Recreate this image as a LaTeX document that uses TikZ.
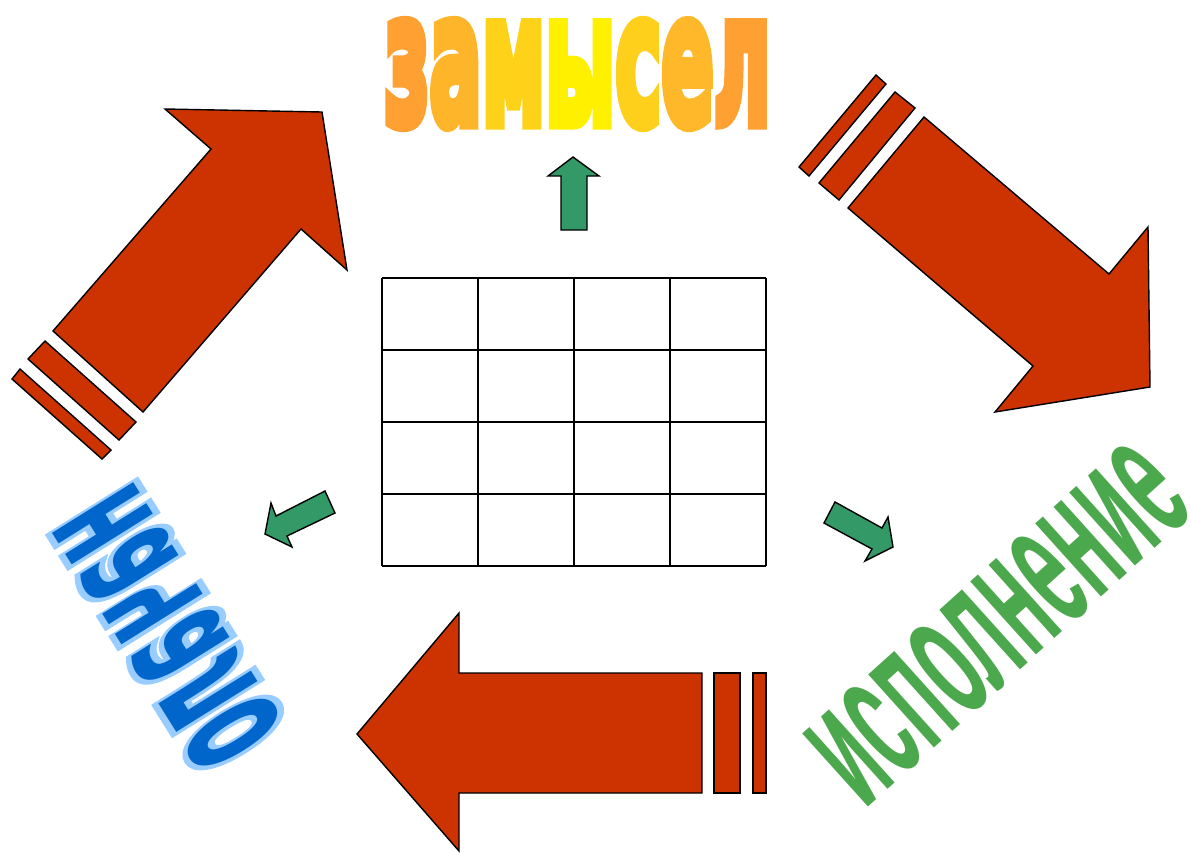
\documentclass[tikz,border=0pt]{standalone}
\usepackage{fontspec}
\usepackage{graphicx}
\newfontfamily\zamfont{DejaVu Sans Bold}[FakeBold=7]
\newfontfamily\nachfont{DejaVu Sans Bold}
\newfontfamily\nachfontb{DejaVu Sans Bold}[FakeBold=8]
\newfontfamily\ispfont{Liberation Sans Bold}
\definecolor{arrowred}{HTML}{CC3300}
\definecolor{arrowgreen}{HTML}{339966}
\definecolor{ispgreen}{HTML}{4CA84C}
\definecolor{nachblue}{HTML}{0066CC}
\definecolor{nachlight}{HTML}{99CCFF}
\definecolor{zamA}{HTML}{FFA033}
\definecolor{zamB}{HTML}{FFB52A}
\definecolor{zamC}{HTML}{FFD21A}
\definecolor{zamD}{HTML}{FFF000}
\definecolor{zamE}{HTML}{FFD01B}
\definecolor{zamF}{HTML}{FFB82A}
\definecolor{zamG}{HTML}{FFA033}
\begin{document}
\begin{tikzpicture}[x=1pt,y=-1pt, line width=1.4pt, line join=miter,
  redarrow/.style={fill=arrowred, draw=black},
  greenarrow/.style={fill=arrowgreen, draw=black},
  gridline/.style={draw=black, line width=1.5pt}]
\useasboundingbox (0,0) rectangle (1191,852);
% top-left red arrow
\draw[redarrow] (53,331) -- (211,149) -- (165,109) -- (322,112) -- (347,270) -- (301,229) -- (143,412) -- cycle;
\draw[redarrow] (45,341) -- (136,422) -- (119,440) -- (28,359) -- cycle;
\draw[redarrow] (20,369) -- (111,450) -- (102,459) -- (12,379) -- cycle;
% top-right red arrow
\draw[redarrow] (924,117) -- (1109,274) -- (1148,227) -- (1150,387) -- (995,412) -- (1033,366) -- (848,208) -- cycle;
\draw[redarrow] (895,92) -- (915,108) -- (839,200) -- (819,183) -- cycle;
\draw[redarrow] (876,75) -- (886,84) -- (809,176) -- (799,167) -- cycle;
% bottom red arrow
\draw[redarrow] (702,673) -- (459,673) -- (459,613) -- (357,734) -- (459,851) -- (459,793) -- (702,793) -- cycle;
\draw[redarrow] (714,673) rectangle (740,793);
\draw[redarrow] (753,673) rectangle (766,793);
% green arrows
\draw[greenarrow] (561,230) -- (561,176) -- (548,176) -- (573,157) -- (599,176) -- (587,176) -- (587,230) -- cycle;
\draw[greenarrow] (325,491) -- (335,513) -- (287,536) -- (292,547) -- (265,534) -- (271,503) -- (276,516) -- cycle;
\draw[greenarrow] (835,502) -- (882,528) -- (888,517) -- (893,547) -- (865,561) -- (872,549) -- (824,523) -- cycle;
% grid
\foreach \i in {0,...,4} {
  \draw[gridline] (382+96*\i,278) -- (382+96*\i,566);
  \draw[gridline] (382,278+72*\i) -- (766,278+72*\i);
}
% texts
\node[inner sep=0pt] (zam) at (577.5,74) {\resizebox{386pt}{101pt}{\zamfont{\color{zamA}з}{\color{zamB}а}{\color{zamC}м}{\color{zamD}ы}{\color{zamE}с}{\color{zamF}е}{\color{zamG}л}}};
\node[rotate=-58, yscale=-1, inner sep=0pt] (nach) at (168,628) {\resizebox{295pt}{98pt}{\rlap{\color{nachlight}\nachfontb начало}{\color{nachblue}\nachfont начало}}};
\node[rotate=42, inner sep=0pt, text=ispgreen] (isp) at (998,624) {\resizebox{448pt}{100pt}{\ispfont исполнение}};
\end{tikzpicture}
\end{document}
